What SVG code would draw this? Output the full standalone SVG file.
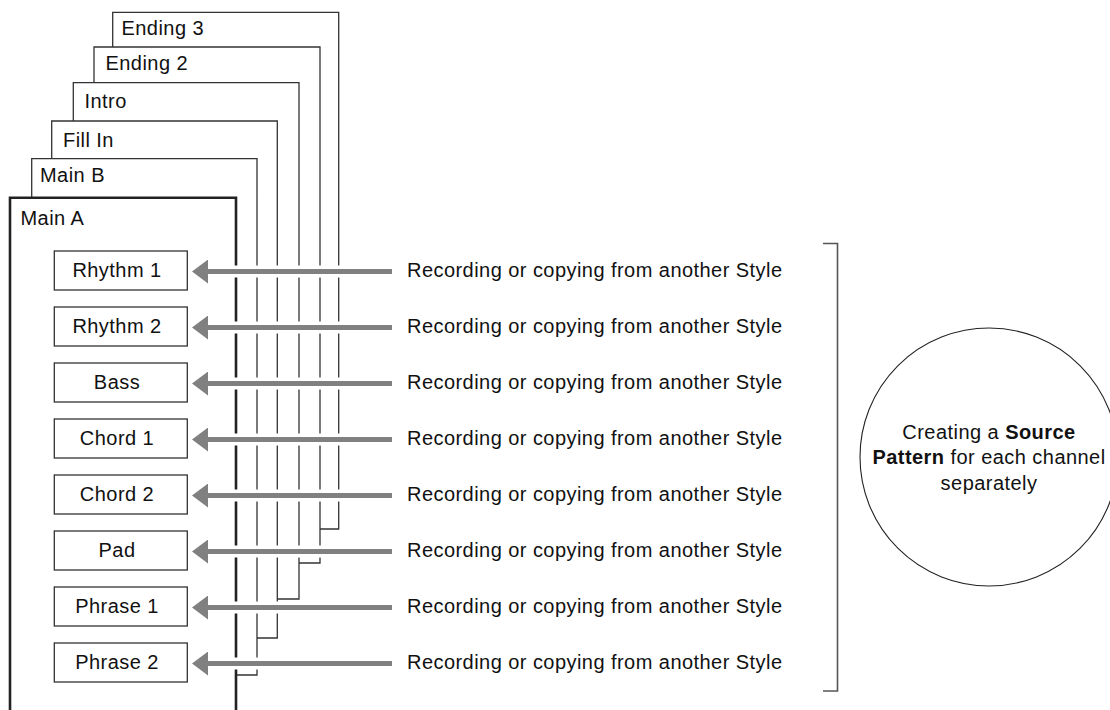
<svg xmlns="http://www.w3.org/2000/svg" width="1110" height="710" viewBox="0 0 1110 710">
<style>
text{font-family:"Liberation Sans",Arial,Helvetica,sans-serif;font-size:20px;fill:#111;letter-spacing:0.45px}
.pg{fill:none;stroke:#333;stroke-width:1.3}
.pgA{fill:none;stroke:#222;stroke-width:2.6}
.box{fill:#fff;stroke:#333;stroke-width:1.3}
.halo{stroke:#fff;stroke-width:12}
.arr{stroke:#808080;stroke-width:5;marker-end:url(#ah)}
.lbl{text-anchor:middle}
</style>
<defs>
<marker id="ah" markerUnits="userSpaceOnUse" viewBox="0 0 16 24" markerWidth="16" markerHeight="24" refX="1" refY="12" orient="auto">
<path d="M0,0 L16,12 L0,24 Z" fill="#808080"/>
</marker>
</defs>
<rect width="1110" height="710" fill="#fff"/>

<g id="page-ending3"><path class="pg" d="M112.7,47 V12.3 H338.7 V529 H320"/><text x="121.5" y="34.5">Ending 3</text></g>
<g id="page-ending2"><path class="pg" d="M94,82.7 V47 H320 V563 H299"/><text x="105.5" y="70">Ending 2</text></g>
<g id="page-intro"><path class="pg" d="M73.3,121 V82.7 H299 V599 H277.3"/><text x="84.5" y="108">Intro</text></g>
<g id="page-fillin"><path class="pg" d="M51.7,158.7 V121 H277.3 V638 H257"/><text x="63" y="146.5">Fill In</text></g>
<g id="page-mainb"><path class="pg" d="M31.7,197.7 V158.7 H257 V675 H236"/><text x="40" y="181.5">Main B</text></g>
<g id="page-maina"><path class="pgA" d="M10,712 V197.7 H236 V712"/><text x="20.5" y="225">Main A</text></g>

<g id="connectors">
<line class="halo" x1="222" y1="271.5" x2="350" y2="271.5"/>
<line class="halo" x1="222" y1="327.5" x2="350" y2="327.5"/>
<line class="halo" x1="222" y1="383.5" x2="350" y2="383.5"/>
<line class="halo" x1="222" y1="439.5" x2="350" y2="439.5"/>
<line class="halo" x1="222" y1="495.5" x2="350" y2="495.5"/>
<line class="halo" x1="222" y1="551.5" x2="350" y2="551.5"/>
<line class="halo" x1="222" y1="607.5" x2="350" y2="607.5"/>
<line class="halo" x1="222" y1="663.5" x2="350" y2="663.5"/>
<line class="arr" x1="392" y1="271.5" x2="207" y2="271.5"/>
<line class="arr" x1="392" y1="327.5" x2="207" y2="327.5"/>
<line class="arr" x1="392" y1="383.5" x2="207" y2="383.5"/>
<line class="arr" x1="392" y1="439.5" x2="207" y2="439.5"/>
<line class="arr" x1="392" y1="495.5" x2="207" y2="495.5"/>
<line class="arr" x1="392" y1="551.5" x2="207" y2="551.5"/>
<line class="arr" x1="392" y1="607.5" x2="207" y2="607.5"/>
<line class="arr" x1="392" y1="663.5" x2="207" y2="663.5"/>
</g>

<g id="ch-rhythm1"><rect class="box" x="54.3" y="251" width="133" height="39"/><text class="lbl" x="117" y="277">Rhythm 1</text></g>
<g id="ch-rhythm2"><rect class="box" x="54.3" y="307" width="133" height="39"/><text class="lbl" x="117" y="333">Rhythm 2</text></g>
<g id="ch-bass"><rect class="box" x="54.3" y="363" width="133" height="39"/><text class="lbl" x="117" y="389">Bass</text></g>
<g id="ch-chord1"><rect class="box" x="54.3" y="419" width="133" height="39"/><text class="lbl" x="117" y="445">Chord 1</text></g>
<g id="ch-chord2"><rect class="box" x="54.3" y="475" width="133" height="39"/><text class="lbl" x="117" y="501">Chord 2</text></g>
<g id="ch-pad"><rect class="box" x="54.3" y="531" width="133" height="39"/><text class="lbl" x="117" y="557">Pad</text></g>
<g id="ch-phrase1"><rect class="box" x="54.3" y="587" width="133" height="39"/><text class="lbl" x="117" y="613">Phrase 1</text></g>
<g id="ch-phrase2"><rect class="box" x="54.3" y="643" width="133" height="39"/><text class="lbl" x="117" y="669">Phrase 2</text></g>

<g id="rec-labels">
<text x="407" y="276.5">Recording or copying from another Style</text>
<text x="407" y="332.5">Recording or copying from another Style</text>
<text x="407" y="388.5">Recording or copying from another Style</text>
<text x="407" y="444.5">Recording or copying from another Style</text>
<text x="407" y="500.5">Recording or copying from another Style</text>
<text x="407" y="556.5">Recording or copying from another Style</text>
<text x="407" y="612.5">Recording or copying from another Style</text>
<text x="407" y="668.5">Recording or copying from another Style</text>
</g>

<g id="bracket"><path d="M823,243.5 H837.5 V691 H823" fill="none" stroke="#555" stroke-width="1.6"/></g>

<g id="source-pattern">
<circle cx="989" cy="457" r="129" fill="#fff" stroke="#222" stroke-width="1.1"/>
<text class="lbl" x="989" y="438.5">Creating a <tspan font-weight="bold">Source</tspan></text>
<text class="lbl" x="989" y="464"><tspan font-weight="bold">Pattern</tspan> for each channel</text>
<text class="lbl" x="989" y="489.5">separately</text>
</g>
</svg>
